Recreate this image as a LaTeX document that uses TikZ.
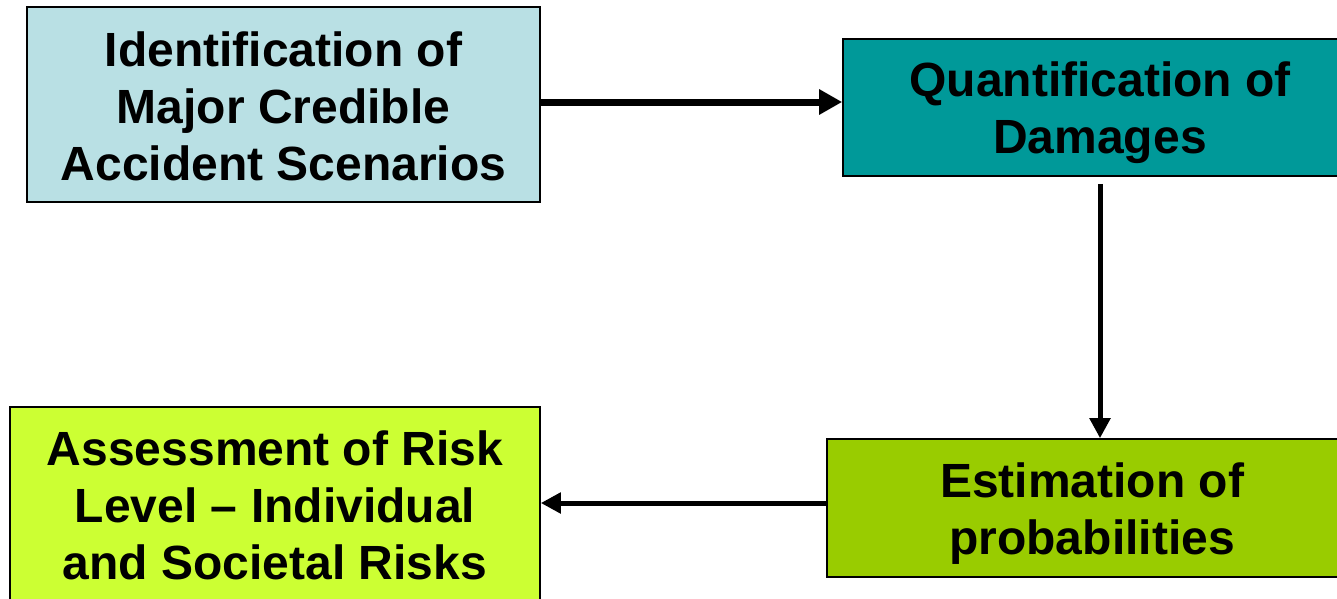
\documentclass[tikz,border=0pt]{standalone}
\usepackage{fontspec}
\setmainfont{Liberation Sans}
\usetikzlibrary{arrows.meta}
\definecolor{boxA}{RGB}{185,224,228}
\definecolor{boxB}{RGB}{0,153,153}
\definecolor{boxC}{RGB}{153,204,0}
\definecolor{boxD}{RGB}{204,255,51}
\newcommand{\boxtext}[2]{\raisebox{#1}[\height][\depth]{\begin{tabular}{@{}c@{}}#2\end{tabular}}}
\tikzset{
  stagebox/.style={draw=black, line width=1.6pt, rectangle, inner sep=0pt,
    font=\fontsize{48}{57}\selectfont\bfseries},
  flowarrow/.style={-{Triangle[length=23pt,width=24pt]}, line width=7pt},
  flowarrowthin/.style={-{Triangle[length=20pt,width=20pt]}, line width=5pt}
}
\begin{document}
\begin{tikzpicture}[x=1pt,y=-1pt]
\useasboundingbox (0,0) rectangle (1337,598);
\clip (0,0) rectangle (1337,598);
\node[stagebox, fill=boxA, minimum width=513pt, minimum height=195pt] (ident) at (283.5,104.5)
  {\boxtext{-8pt}{Identification of\\Major Credible\\Accident Scenarios}};
\node[stagebox, fill=boxB, minimum width=514pt, minimum height=137pt] (quant) at (1100,107.5)
  {\boxtext{-6pt}{Quantification of\\Damages}};
\node[stagebox, fill=boxC, minimum width=530pt, minimum height=138pt] (estim) at (1092,508)
  {\boxtext{-7pt}{Estimation of\\probabilities}};
\node[stagebox, fill=boxD, minimum width=530pt, minimum height=200pt] (assess) at (275,507)
  {\boxtext{-4pt}{Assessment of Risk\\Level – Individual\\and Societal Risks}};
\draw[flowarrow] (ident.east |- 0,102) -- (quant.west |- 0,102);
\draw[flowarrowthin, shorten <=7pt] (quant.south -| 1100,0) -- (estim.north -| 1100,0);
\draw[flowarrowthin] (estim.west |- 0,503) -- (assess.east |- 0,503);
\end{tikzpicture}
\end{document}
